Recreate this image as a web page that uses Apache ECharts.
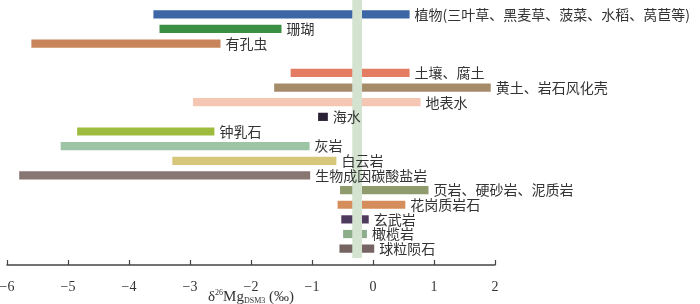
<!DOCTYPE html>
<html>
<head>
<meta charset="utf-8">
<script src="https://cdn.jsdelivr.net/npm/echarts@6/dist/echarts.min.js"></script>
<style>html,body{margin:0;padding:0;background:#fff;}#c{width:700px;height:304px;}</style>
</head>
<body>
<div id="c"></div>
<script>
// Categories (top to bottom); '' is an empty row used as a gap
const categories = ['植物(三叶草、黑麦草、菠菜、水稻、莴苣等)', '珊瑚', '有孔虫', '', '土壤、腐土', '黄土、岩石风化壳', '地表水', '海水', '钟乳石', '灰岩', '白云岩', '生物成因碳酸盐岩', '页岩、硬砂岩、泥质岩', '花岗质岩石', '玄武岩', '橄榄岩', '球粒陨石'];
// δ26Mg ranges (‰)
const lowValues  = [-3.6, -3.5, -5.6, null, -1.35, -1.62, -2.95, -0.9, -4.85, -5.12, -3.29, -5.8, -0.54, -0.58, -0.52, -0.49, -0.55];
const highValues = [0.6, -1.5, -2.5, null, 0.6, 1.93, 0.78, -0.74, -2.6, -1.04, -0.6, -1.03, 0.91, 0.53, -0.07, -0.1, 0.02];
// Reference band (mantle value range)
const bandRange = [-0.34, -0.18];
// X axis ticks
const xTicks = [-6, -5, -4, -3, -2, -1, 0, 1, 2];
const barColors = ['#3d66a7', '#3a8f42', '#c8845a', '#ffffff', '#e37c62', '#a68b6b', '#f5c6b3', '#2b2137', '#9dbb3c', '#9dc4a5', '#d6c77a', '#877672', '#8f9b6d', '#d58e5b', '#4e3a5c', '#8cae8a', '#756461'];

const rows = categories.map((c, i) => [lowValues[i], highValues[i], i]);
const validRows = rows.filter(r => r[0] !== null);

const chart = echarts.init(document.getElementById('c'), null, {renderer: 'canvas'});
const fmt = v => (v < 0 ? '\u2212' + Math.abs(v) : String(v));

chart.setOption({
  animation: false,
  grid: [
    {left: 7, right: 205, top: 7, bottom: 48, containLabel: false, outerBoundsMode: 'none'},
    {left: 7, right: 205, top: 0, bottom: 46, containLabel: false, outerBoundsMode: 'none'}
  ],
  xAxis: [
    {
      gridIndex: 0, type: 'value', min: xTicks[0], max: xTicks[xTicks.length - 1], interval: 1,
      offset: 9,
      axisLine: {show: true, lineStyle: {color: '#444', width: 1.5}},
      axisTick: {show: true, inside: true, length: 5, lineStyle: {color: '#444', width: 1.2}},
      axisLabel: {formatter: fmt, fontFamily: 'Liberation Serif', fontSize: 14, color: '#333', margin: 15},
      splitLine: {show: false},
      name: '{a|δ}{sup|26}{a|Mg}{sub|DSM3}{a| (‰)}',
      nameLocation: 'middle', nameGap: 24, nameMoveOverlap: false,
      nameTextStyle: {
        rich: {
          a: {fontFamily: 'Liberation Serif', fontSize: 15, color: '#333', lineHeight: 16},
          sup: {fontFamily: 'Liberation Serif', fontSize: 8, color: '#333', verticalAlign: 'top', lineHeight: 16},
          sub: {fontFamily: 'Liberation Serif', fontSize: 8, color: '#333', verticalAlign: 'bottom', lineHeight: 16}
        }
      }
    },
    {gridIndex: 1, type: 'value', min: xTicks[0], max: xTicks[xTicks.length - 1], show: false}
  ],
  yAxis: [
    {gridIndex: 0, type: 'category', data: categories, inverse: true, show: false},
    {gridIndex: 1, type: 'value', min: 0, max: 1, show: false}
  ],
  series: [
    {
      type: 'custom', xAxisIndex: 0, yAxisIndex: 0, z: 2,
      data: validRows,
      renderItem: function (params, api) {
        const lo = api.value(0), hi = api.value(1), idx = api.value(2);
        const p1 = api.coord([lo, idx]);
        const p2 = api.coord([hi, idx]);
        const h = api.size([0, 1])[1] * 0.56;
        return {
          type: 'rect',
          shape: {x: p1[0], y: p1[1] - h / 2, width: p2[0] - p1[0], height: h},
          style: {fill: barColors[idx]}
        };
      }
    },
    {
      type: 'custom', xAxisIndex: 1, yAxisIndex: 1, z: 3,
      data: [bandRange],
      renderItem: function (params, api) {
        const a = api.coord([api.value(0), 1]);
        const b = api.coord([api.value(1), 0]);
        return {
          type: 'rect',
          shape: {x: a[0], y: a[1], width: b[0] - a[0], height: b[1] - a[1]},
          style: {fill: '#d3e3d0'}
        };
      }
    },
    {
      type: 'custom', xAxisIndex: 0, yAxisIndex: 0, z: 4,
      data: validRows,
      renderItem: function (params, api) {
        const hi = api.value(1), idx = api.value(2);
        const p = api.coord([hi, idx]);
        return {
          type: 'text',
          style: {
            x: p[0] + 5, y: p[1], text: categories[idx],
            fill: '#333', fontSize: 14, fontFamily: 'Noto Sans CJK SC',
            align: 'left', verticalAlign: 'middle'
          }
        };
      }
    }
  ]
});
</script>
</body>
</html>
